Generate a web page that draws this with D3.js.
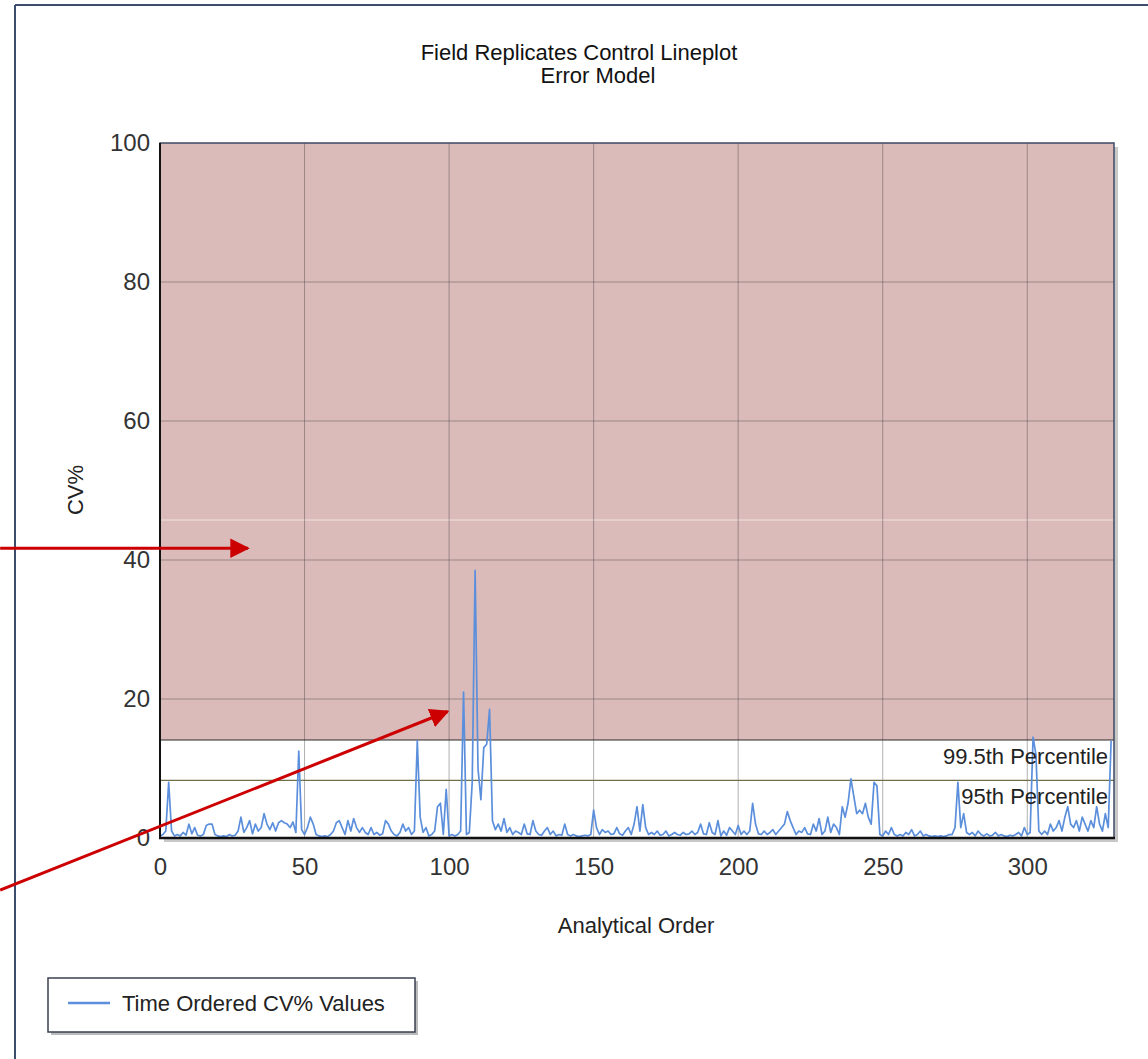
<!DOCTYPE html>
<html>
<head>
<meta charset="utf-8">
<script src="https://cdn.jsdelivr.net/npm/d3@7"></script>
<style>
  body { margin: 0; background: #fff; }
  svg { display: block; font-family: "Liberation Sans", Arial, sans-serif; }
</style>
</head>
<body>
<svg id="chart" width="1148" height="1059"></svg>
<script>
// CV% values in analytical order
const cvValues = [
  0.3, 0.5, 1.0, 8.0, 1.0, 0.3, 0.5, 0.3, 0.8, 0.4,
  2.0, 0.6, 1.5, 0.4, 0.3, 0.5, 1.8, 2.0, 2.0, 0.5,
  0.3, 0.2, 0.3, 0.2, 0.5, 0.3, 0.4, 1.0, 3.0, 0.8,
  1.5, 2.5, 0.6, 2.0, 1.0, 1.5, 3.5, 2.0, 1.2, 2.2,
  1.0, 2.2, 2.5, 2.2, 2.0, 1.5, 2.3, 0.8, 12.5, 1.2,
  0.5, 1.5, 3.0, 2.0, 0.5, 0.3, 0.2, 0.3, 0.2, 0.5,
  1.0, 2.2, 2.5, 1.5, 0.5, 2.5, 1.0, 2.8, 1.5, 0.8,
  1.5, 0.8, 0.5, 1.5, 0.5, 0.8, 0.4, 0.6, 2.5, 2.0,
  1.0, 0.5, 0.3, 0.8, 2.0, 1.0, 1.5, 0.5, 1.0, 14.0,
  3.0, 0.8, 1.5, 0.3, 0.5, 1.0, 4.5, 5.0, 0.5, 7.0,
  0.3, 0.5, 0.3, 0.5, 1.0, 21.0, 0.5, 0.8, 8.0, 38.5,
  10.0, 5.5, 13.0, 13.5, 18.5, 2.5, 1.2, 2.0, 1.0, 2.8,
  0.8, 1.5, 0.5, 1.0, 0.8, 0.5, 2.0, 0.6, 0.5, 2.5,
  1.0, 0.5, 0.4, 1.0, 1.5, 0.5, 1.0, 0.3, 0.5, 0.4,
  2.0, 0.5, 0.3, 0.5, 0.3, 0.2, 0.3, 0.4, 0.3, 0.5,
  4.0, 1.5, 0.5, 1.2, 0.8, 1.0, 0.5, 0.6, 1.5, 0.6,
  0.4, 1.0, 1.5, 0.5, 2.0, 4.5, 1.0, 4.8, 1.5, 0.5,
  0.8, 0.5, 1.0, 0.4, 0.5, 1.0, 0.3, 0.5, 0.8, 0.5,
  0.4, 0.8, 0.5, 0.6, 1.0, 0.5, 0.8, 2.0, 0.6, 0.5,
  2.2, 0.8, 0.5, 2.5, 0.3, 1.0, 0.4, 1.5, 1.0, 0.5,
  1.8, 0.5, 1.0, 0.5, 1.0, 5.0, 2.0, 0.6, 0.5, 1.0,
  0.5, 0.8, 1.2, 0.5, 1.0, 1.5, 2.0, 3.8, 2.5, 1.5,
  0.5, 1.0, 0.8, 1.5, 0.6, 0.5, 2.0, 1.0, 2.8, 0.5,
  1.0, 3.0, 0.8, 2.0, 1.5, 0.5, 4.5, 3.0, 5.0, 8.5,
  6.0, 3.5, 4.0, 3.5, 5.0, 3.0, 2.0, 8.0, 7.5, 0.5,
  0.3, 1.0, 0.5, 1.5, 0.5, 0.3, 0.5, 0.3, 0.8, 0.5,
  1.2, 0.3, 0.5, 1.0, 0.3, 0.5, 0.3, 0.2, 0.3, 0.2,
  0.3, 0.2, 0.3, 0.5, 0.5, 1.5, 8.0, 1.5, 3.5, 0.8,
  0.5, 0.8, 0.3, 1.0, 0.5, 0.3, 0.6, 0.3, 0.4, 0.8,
  0.3, 0.5, 0.3, 0.2, 0.4, 0.3, 0.5, 0.8, 0.3, 1.5,
  0.5, 0.8, 14.5, 12.0, 1.0, 0.5, 1.0, 0.5, 2.0, 1.0,
  1.5, 2.5, 1.0, 3.0, 4.5, 2.0, 1.5, 2.5, 1.0, 3.0,
  2.0, 1.0, 2.5, 1.5, 4.5, 2.0, 1.0, 3.5, 1.5, 14.0
];
const xTicks = [0, 50, 100, 150, 200, 250, 300];
const yTicks = [0, 20, 40, 60, 80, 100];
const percentileLabels = ["99.5th Percentile", "95th Percentile"];
const percentileValues = [14.1, 8.3];
const titleLines = ["Field Replicates Control Lineplot", "Error Model"];
const legendLabels = ["Time Ordered CV% Values"];
// red annotation arrows, in data units (start is outside the plot, left edge of the picture)
const arrowFrom = [[-55.3, 41.7], [-55.3, -7.5]];
const arrowTo = [[30.4, 41.7], [99.5, 18.2]];

const svg = d3.select("#chart");
const plotLeft = 160, plotRight = 1114, plotTop = 143, plotBottom = 838;

const x = d3.scaleLinear().domain([0, 330]).range([plotLeft, plotRight]);
const y = d3.scaleLinear().domain([0, 100]).range([plotBottom, plotTop]);

function drawLine(g, x1, y1, x2, y2, stroke, width, opacity = 1) {
  return g.append("line")
    .attr("x1", x1).attr("y1", y1)
    .attr("x2", x2).attr("y2", y2)
    .attr("stroke", stroke)
    .attr("stroke-width", width)
    .attr("stroke-opacity", opacity);
}

function drawTxt(g, tx, ty, txt, fill, size, anchor = "start") {
  return g.append("text")
    .attr("x", tx).attr("y", ty)
    .attr("fill", fill)
    .attr("font-size", size)
    .attr("text-anchor", anchor)
    .text(txt);
}

// outer frame
drawLine(svg, 15, 5, 1148, 5, "#3d4d6e", 2);
drawLine(svg, 15, 5, 15, 1059, "#3d4d6e", 2);

// titles
drawTxt(svg, 579, 60, titleLines[0], "#111", 22, "middle");
drawTxt(svg, 598, 83, titleLines[1], "#111", 22, "middle");

// plot shadow
svg.append("rect").attr("x", plotLeft + 4).attr("y", plotTop + 4)
  .attr("width", plotRight - plotLeft).attr("height", plotBottom - plotTop)
  .attr("fill", "#c8c8c8");
svg.append("rect").attr("x", plotLeft).attr("y", plotTop)
  .attr("width", plotRight - plotLeft).attr("height", plotBottom - plotTop)
  .attr("fill", "#fff");

// out of control zone above the 99.5th percentile
svg.append("rect")
  .attr("x", plotLeft).attr("y", y(100))
  .attr("width", plotRight - plotLeft)
  .attr("height", y(percentileValues[0]) - y(100))
  .attr("fill", "#dbbaba");

// faint seam across the zone
drawLine(svg, plotLeft, 520, plotRight, 520, "#fff", 1, 0.6);

// grid
const grid = svg.append("g");
xTicks.filter(d => d > 0).forEach(d => {
  drawLine(grid, x(d), plotTop, x(d), plotBottom, "#3c3c3c", 1, 0.4);
});
yTicks.filter(d => d > 0 && d < 100).forEach(d => {
  drawLine(grid, plotLeft, y(d), plotRight, y(d), "#3c3c3c", 1, 0.4);
});

// percentile lines
drawLine(svg, plotLeft, y(percentileValues[0]), plotRight, y(percentileValues[0]), "#2a2a2a", 1.2);
drawLine(svg, plotLeft, y(percentileValues[1]), plotRight, y(percentileValues[1]), "#6f6f48", 1.2);

// CV% line
const line = d3.line()
  .x((d, i) => x(i))
  .y(d => y(d));
svg.append("path")
  .datum(cvValues)
  .attr("d", line)
  .attr("fill", "none")
  .attr("stroke", "#5b8fdc")
  .attr("stroke-width", 1.7)
  .attr("stroke-linejoin", "round");

// percentile labels
percentileLabels.forEach((t, i) => {
  drawTxt(svg, 1108, y(percentileValues[i]) + 24, t, "#222", 22, "end");
});

// plot border and axes
svg.append("rect").attr("x", plotLeft).attr("y", plotTop)
  .attr("width", plotRight - plotLeft).attr("height", plotBottom - plotTop)
  .attr("fill", "none").attr("stroke", "#3f4a66").attr("stroke-width", 1.5);
drawLine(svg, plotLeft, plotTop, plotLeft, plotBottom + 1, "#111", 2);
drawLine(svg, plotLeft - 1, plotBottom, plotRight + 1, plotBottom, "#111", 2.5);

// ticks
const xAxis = d3.axisBottom(x).tickValues(xTicks).tickSize(0).tickPadding(20);
const yAxis = d3.axisLeft(y).tickValues(yTicks).tickSize(0).tickPadding(10);
svg.append("g").attr("transform", `translate(0,${plotBottom})`).call(xAxis)
  .call(g => g.select(".domain").remove())
  .selectAll("text").attr("font-size", 24).attr("fill", "#333")
  .attr("font-family", "Liberation Sans, Arial, sans-serif");
svg.append("g").attr("transform", `translate(${plotLeft},0)`).call(yAxis)
  .call(g => g.select(".domain").remove())
  .selectAll("text").attr("font-size", 24).attr("fill", "#333")
  .attr("font-family", "Liberation Sans, Arial, sans-serif");

// axis titles
drawTxt(svg, 636, 933, "Analytical Order", "#222", 22, "middle");
drawTxt(svg, 0, 0, "CV%", "#222", 22, "middle")
  .attr("transform", "translate(83,490) rotate(-90)");

// legend
const legend = svg.append("g");
legend.append("rect").attr("x", 51).attr("y", 981).attr("width", 367).attr("height", 54)
  .attr("fill", "#bbb");
legend.append("rect").attr("x", 48).attr("y", 978).attr("width", 367).attr("height", 54)
  .attr("fill", "#fff").attr("stroke", "#3a4050").attr("stroke-width", 1.5);
drawLine(legend, 68, 1003, 110, 1003, "#5b8fdc", 2.5);
drawTxt(legend, 122, 1011, legendLabels[0], "#222", 22);

// red arrows
const defs = svg.append("defs");
defs.append("marker")
  .attr("id", "arrowHead")
  .attr("viewBox", "0 0 10 10")
  .attr("refX", 9).attr("refY", 5)
  .attr("markerWidth", 6.5).attr("markerHeight", 6.5)
  .attr("markerUnits", "strokeWidth")
  .attr("orient", "auto")
  .append("path").attr("d", "M0,0 L10,5 L0,10 Z").attr("fill", "#cc0000");

arrowFrom.forEach((p, i) => {
  drawLine(svg, x(p[0]), y(p[1]), x(arrowTo[i][0]), y(arrowTo[i][1]), "#cc0000", 3)
    .attr("marker-end", "url(#arrowHead)");
});
</script>
</body>
</html>
